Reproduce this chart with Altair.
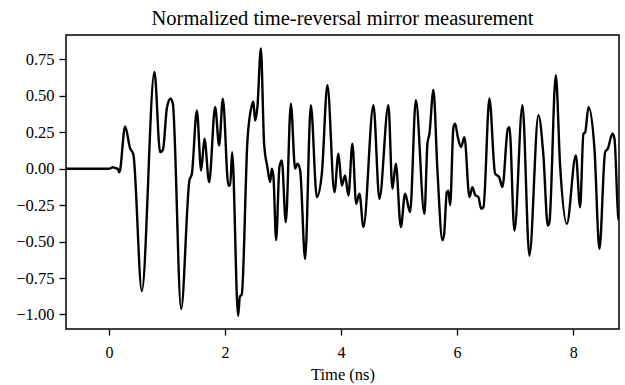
import altair as alt
import pandas as pd

# time (ns) and normalized amplitude
time_ns = [-0.74, 0.00, 0.07, 0.107, 0.15, 0.18, 0.279, 0.365, 0.42, 0.567, 0.784,
           0.882, 0.93, 1.00, 1.06, 1.10, 1.244, 1.387, 1.429, 1.515, 1.589, 1.646,
           1.727, 1.830, 1.899, 1.963, 2.059, 2.09, 2.123, 2.226, 2.255, 2.29,
           2.387, 2.463, 2.490, 2.519, 2.559, 2.618, 2.674, 2.731, 2.778, 2.807,
           2.835, 2.881, 2.938, 2.979, 3.048, 3.135, 3.209, 3.248, 3.295, 3.381,
           3.479, 3.583, 3.669, 3.765, 3.886, 3.955, 4.013, 4.070, 4.127, 4.196,
           4.260, 4.317, 4.386, 4.558, 4.661, 4.816, 4.885, 4.944, 5.030, 5.104,
           5.190, 5.289, 5.437, 5.489, 5.523, 5.592, 5.661, 5.747, 5.776, 5.823,
           5.850, 5.880, 5.937, 5.966, 6.012, 6.069, 6.126, 6.213, 6.264, 6.311,
           6.368, 6.414, 6.454, 6.557, 6.655, 6.724, 6.781, 6.874, 6.902, 6.988,
           7.126, 7.246, 7.401, 7.487, 7.563, 7.590, 7.701, 7.775, 7.891, 8.046,
           8.120, 8.177, 8.207, 8.264, 8.367, 8.453, 8.551, 8.598, 8.677, 8.712,
           8.781, 8.83]
amplitude = [0.0, 0.0, 0.01, 0.005, 0.0, -0.025, 0.29, 0.14, 0.10, -0.84, 0.665,
             0.114, 0.13, 0.42, 0.48, 0.45, -0.963, -0.08, -0.035, 0.40, -0.012, 0.206,
             -0.092, 0.424, 0.16, 0.48, -0.115, -0.115, 0.114, -1.01, -0.88, -0.86,
             0.195, 0.436, 0.46, 0.33, 0.424, 0.826, 0.172, 0.011, -0.092, 0.0,
             -0.055, -0.49, 0.011, 0.057, -0.367, 0.447, 0.0, 0.034, -0.01, -0.62,
             0.436, -0.195, -0.034, 0.573, -0.16, 0.103, -0.115, -0.046, -0.184, 0.172,
             -0.241, -0.172, -0.40, 0.436, -0.206, 0.436, -0.138, 0.034, -0.40, -0.172,
             -0.298, 0.47, -0.31, 0.172, 0.24, 0.54, -0.012, -0.49, -0.45, -0.16,
             -0.15, -0.25, 0.286, 0.31, 0.217, 0.149, 0.217, -0.195, -0.126, -0.18,
             -0.195, -0.275, -0.264, 0.482, -0.034, -0.057, -0.126, 0.275, 0.286, -0.425,
             0.436, -0.597, 0.367, 0.092, -0.39, -0.37, 0.642, 0.023, -0.379, 0.092,
             -0.264, 0.24, 0.25, 0.424, 0.138, -0.55, 0.114, 0.138, 0.24, 0.206,
             -0.344, -0.36]

x_ticks = [0, 2, 4, 6, 8]
y_ticks = [-1.0, -0.75, -0.5, -0.25, 0.0, 0.25, 0.5, 0.75]

df = pd.DataFrame({"t": time_ns, "v": amplitude})

FONT = "Liberation Serif"

chart = (
    alt.Chart(df)
    .mark_line(color="black", strokeWidth=2.4, clip=True, interpolate="monotone")
    .encode(
        x=alt.X(
            "t:Q",
            scale=alt.Scale(domain=[-0.74, 8.79], nice=False, zero=False),
            axis=alt.Axis(
                title="Time (ns)", values=x_ticks, format="d", grid=False,
                domain=False, tickSize=6, tickWidth=1.3, tickColor="black",
                labelPadding=9, labelFontSize=16, labelFont=FONT, labelColor="black",
                titleFont=FONT, titleFontSize=16.5, titleFontWeight="normal",
                titleColor="black", titleY=50, titleBaseline="alphabetic",
            ),
        ),
        y=alt.Y(
            "v:Q",
            scale=alt.Scale(domain=[-1.10, 0.918], nice=False, zero=False),
            axis=alt.Axis(
                title=None, values=y_ticks, format=".2f", grid=False,
                domain=False, tickSize=7, tickWidth=1.3, tickColor="black",
                labelPadding=5, labelFontSize=16.5, labelFont=FONT, labelColor="black",
            ),
        ),
    )
    .properties(
        width=553,
        height=294,
        background="white",
        title=alt.TitleParams(
            "Normalized time-reversal mirror measurement",
            font=FONT, fontSize=20.5, fontWeight="normal", color="black",
            anchor="middle", offset=6,
        ),
        autosize=alt.AutoSizeParams(type="none"),
        padding={"left": 66, "top": 35, "right": 6, "bottom": 56},
    )
    .configure_view(stroke="black", strokeWidth=1.5)
)

chart.save("out.html", embed_options={"renderer": "svg", "actions": False})
